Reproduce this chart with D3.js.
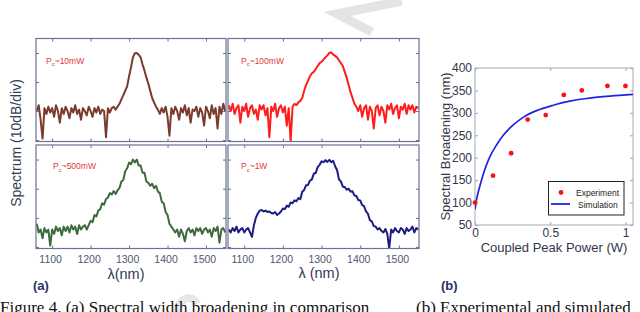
<!DOCTYPE html>
<html>
<head>
  <meta charset="utf-8">
  <style>
    body { margin: 0; background: white; }
    svg { display: block; font-family: "Liberation Sans", Arial, sans-serif; }
  </style>
</head>
<body>
  <svg id="fig" width="640" height="312"></svg>
  <script src="https://cdn.jsdelivr.net/npm/d3@7"></script>
  <script>
    // spectra, dB values every 5 nm from 1060 to 1550 nm
    var wavelengths = d3.range(1060, 1551, 5);
    var spec10mW = [
      -20, -18, -23, -29.5, -19, -21, -18.5, -20.5, -19, -22,
      -18, -20, -24, -19, -21, -18.5, -20, -22.5, -19, -20.5,
      -18, -21, -19.5, -23, -19, -20, -21.5, -18.5, -20, -22,
      -19, -20.5, -18.5, -21, -19.5, -20, -29, -19, -20.5, -19,
      -18.5, -19.5, -18.5, -17.5, -16, -14.5, -13, -11.5, -8, -5,
      -1.5, -0.1, 0, -0.6, -1.5, -4, -6, -8.5, -10.5, -13,
      -15.5, -17, -18.5, -19.5, -21, -19, -20.5, -18.5, -22, -28.5,
      -19, -21, -18.5, -20, -23, -19, -20.5, -18, -21.5, -19,
      -24, -19.5, -20, -18.5, -22, -19, -20.5, -25, -18.5, -20,
      -22.5, -18, -21, -19, -26, -18.5, -21, -17.5, -20
    ];
    var spec100mW = [
      -18, -20, -17.5, -21, -19, -18, -24, -18.5, -20, -17.5,
      -22, -19, -18, -21, -19.5, -23, -18, -19.5, -18, -21.5,
      -19, -29, -18.5, -20, -17.5, -22, -19, -18, -20.5, -18.5,
      -25, -19, -30.5, -18.5, -17.5, -18, -17, -16.5, -15.5, -13,
      -11, -9.5, -8, -7, -6.5, -5.5, -4.5, -3.5, -3, -2.3,
      -1.5, -0.8, 0, 0.2, -0.5, -1, -1.5, -2.5, -3.5, -4.5,
      -6.5, -8.5, -11, -13.5, -15.5, -17.5, -18.5, -20, -18, -22,
      -19, -18, -23, -18.5, -20, -26, -19, -18, -21.5, -18.5,
      -20, -24, -18, -19.5, -17.5, -21, -19, -18, -22.5, -18.5,
      -19.5, -17.5, -21, -18, -19.5, -18, -20.5, -18.5, -19
    ];
    var spec500mW = [
      -22, -25, -24, -27, -23.5, -25, -24, -29.5, -24, -25.5,
      -23, -24.5, -23.5, -26, -23, -24.5, -23, -25, -22.5, -24,
      -23, -25.5, -22.5, -24, -23, -22.5, -24, -22.5, -21, -21.5,
      -19, -19.5, -17.5, -17, -15, -15.5, -13.5, -13, -11.5, -12,
      -10.8, -11.8, -10.5, -9.8, -7.5, -7, -4, -3, -1, -1.6,
      0, -1, 0, -2, -2, -4.5, -4.5, -7.5, -8, -9,
      -8.3, -9.8, -9, -11, -11.5, -14.5, -15, -18, -19, -22,
      -23, -24, -25, -24, -26.5, -24, -25.5, -28, -24.5, -23.5,
      -25, -24, -26, -23.5, -24.5, -23.5, -25.5, -24, -23.5, -25,
      -24, -26.5, -23.5, -24.5, -23, -28.5, -24, -23.5, -25
    ];
    var spec1W = [
      -24, -25, -23.5, -24.5, -23, -25, -24, -23.5, -25, -24,
      -23.5, -25, -26.5, -22.5, -20, -18.5, -17.5, -17.3, -17.8, -17.5,
      -18, -17.8, -18.3, -18.5, -18, -19, -18.5, -17.8, -16.8, -17,
      -15.8, -16.2, -14.7, -15, -14, -14.3, -13.2, -13.6, -11, -10.4,
      -8.8, -8.7, -7.2, -6.8, -4.8, -4.6, -2.5, -1.8, -0.6, -0.9,
      -0.2, -0.8, -0.1, -0.9, -0.4, -2.3, -3.6, -6.8, -7.5, -9.3,
      -9.4, -10.3, -10, -11, -10.9, -12.3, -12.5, -13.9, -14, -15.6,
      -16, -17.8, -18.6, -20.8, -21.2, -22.8, -23, -24, -23.5, -24.5,
      -25, -23.8, -25.5, -30.5, -24, -25, -23.5, -24.5, -25, -23.5,
      -24, -25.5, -23.5, -24.5, -24, -23, -25, -23.5, -24
    ];
    var panelPowers = ["~10mW", "~100mW", "~500mW", "~1W"];
    var traceColors = ["#7a3a2c", "#ff1c1c", "#3e6a3e", "#1c1c84"];
    var nmTicks = [1100, 1200, 1300, 1400, 1500];
    var dbTicks = [-30, -20, -10, 0];

    // broadening vs power
    var expPower = [0, 0.12, 0.24, 0.35, 0.47, 0.59, 0.71, 0.88, 1.0];
    var expBroadening = [100, 160, 210, 285, 295, 340, 350, 360, 360];
    var simPower = [0, 0.011, 0.022, 0.04, 0.055, 0.075, 0.1, 0.144, 0.188, 0.254,
      0.32, 0.41, 0.52, 0.63, 0.74, 0.85, 0.96, 1.05];
    var simBroadening = [85, 108, 124, 146, 163, 183, 203, 229, 250, 273,
      290, 305, 317, 326, 332, 336, 339, 341];
    var broadTicks = [50, 100, 150, 200, 250, 300, 350, 400];
    var powerTicks = [0, 0.5, 1];

    var svg = d3.select("#fig");

    // faint watermark strokes
    svg.append("path")
      .attr("d", "M402,1 L337,14 L372,32")
      .attr("fill", "none").attr("stroke", "#e4e4e4").attr("stroke-width", 9);
    svg.append("path")
      .attr("d", "M177,313 C178,300 190,292 197,304")
      .attr("fill", "none").attr("stroke", "#e6e6e6").attr("stroke-width", 8);

    var panels = [
      { x0: 36, y0: 38.5, w: 190, h: 103, data: spec10mW },
      { x0: 228, y0: 38.5, w: 191, h: 103, data: spec100mW },
      { x0: 36, y0: 145, w: 190, h: 103.5, data: spec500mW },
      { x0: 228, y0: 145, w: 191, h: 103.5, data: spec1W }
    ];

    panels.forEach(function (p, i) {
      var x = d3.scaleLinear().domain([1058, 1552]).range([p.x0, p.x0 + p.w]);
      var y = d3.scaleLinear().domain([-30.5, 5]).range([p.y0 + p.h, p.y0]);
      var g = svg.append("g");

      g.append("clipPath").attr("id", "clip" + i)
        .append("rect")
        .attr("x", p.x0).attr("y", p.y0).attr("width", p.w).attr("height", p.h);

      var line = d3.line()
        .x(function (d, k) { return x(wavelengths[k]); })
        .y(function (d) { return y(d); });
      g.append("path")
        .datum(p.data)
        .attr("clip-path", "url(#clip" + i + ")")
        .attr("fill", "none")
        .attr("stroke", traceColors[i])
        .attr("stroke-width", 2)
        .attr("stroke-linejoin", "round")
        .attr("d", line);

      // inner ticks on all four sides
      var bottom = i >= 2;
      var xb = g.append("g").attr("transform", "translate(0," + (p.y0 + p.h) + ")")
        .call(d3.axisBottom(x).tickValues(nmTicks).tickSizeInner(-3).tickSizeOuter(0)
          .tickPadding(7).tickFormat(bottom ? d3.format("d") : ""));
      g.append("g").attr("transform", "translate(0," + p.y0 + ")")
        .call(d3.axisTop(x).tickValues(nmTicks).tickSizeInner(-3).tickSizeOuter(0).tickFormat(""));
      g.append("g").attr("transform", "translate(" + p.x0 + ",0)")
        .call(d3.axisLeft(y).tickValues(dbTicks).tickSizeInner(-3).tickSizeOuter(0).tickFormat(""));
      g.append("g").attr("transform", "translate(" + (p.x0 + p.w) + ",0)")
        .call(d3.axisRight(y).tickValues(dbTicks).tickSizeInner(-3).tickSizeOuter(0).tickFormat(""));
      g.selectAll(".domain").remove();
      g.selectAll(".tick line").attr("stroke", "#6c7292");
      xb.selectAll("text")
        .attr("font-size", 10.5)
        .attr("font-family", "Liberation Sans, Arial, sans-serif")
        .attr("fill", "#505670")
        .attr("dx", -2);

      g.append("rect")
        .attr("x", p.x0).attr("y", p.y0).attr("width", p.w).attr("height", p.h)
        .attr("fill", "none").attr("stroke", "#6c7292").attr("stroke-width", 1.2);

      // P label
      var lab = g.append("text")
        .attr("x", p.x0 + (i == 0 ? 10 : (i == 2 ? 17 : 13)))
        .attr("y", p.y0 + (i < 2 ? 25 : 24))
        .attr("font-size", 8.5)
        .attr("fill", "#e03a3a");
      lab.append("tspan").text("P");
      lab.append("tspan").attr("font-size", 6).attr("dy", 2.5).text("c");
      lab.append("tspan").attr("dy", -2.5).text(panelPowers[i]);
    });

    // left figure labels
    svg.append("text")
      .attr("transform", "translate(21,143) rotate(-90)")
      .attr("text-anchor", "middle")
      .attr("font-size", 14)
      .attr("fill", "#353a58")
      .text("Spectrum (10dB/div)");
    svg.append("text")
      .attr("x", 126).attr("y", 279)
      .attr("text-anchor", "middle").attr("font-size", 14.5).attr("fill", "#353a58")
      .text("λ(nm)");
    svg.append("text")
      .attr("x", 319).attr("y", 278)
      .attr("text-anchor", "middle").attr("font-size", 14.5).attr("fill", "#353a58")
      .text("λ (nm)");
    svg.append("text")
      .attr("x", 33).attr("y", 290)
      .attr("font-size", 13).attr("font-weight", "bold").attr("fill", "#26306a")
      .text("(a)");

    // right figure: broadening vs power
    var bx = d3.scaleLinear().domain([0, 1.05]).range([475, 633]);
    var by = d3.scaleLinear().domain([50, 400]).range([225, 68]);
    var rg = svg.append("g");

    rg.append("clipPath").attr("id", "clipB")
      .append("rect").attr("x", 475).attr("y", 68).attr("width", 158).attr("height", 157);

    rg.append("g").attr("transform", "translate(475,0)")
      .call(d3.axisLeft(by).tickValues(broadTicks).tickSizeInner(-3).tickSizeOuter(0).tickPadding(3));
    rg.append("g").attr("transform", "translate(633,0)")
      .call(d3.axisRight(by).tickValues(broadTicks).tickSizeInner(-3).tickSizeOuter(0).tickFormat(""));
    rg.append("g").attr("transform", "translate(0,225)")
      .call(d3.axisBottom(bx).tickValues(powerTicks).tickSizeInner(-3).tickSizeOuter(0).tickPadding(3)
        .tickFormat(function (d) { return d == 0.5 ? "0.5" : d3.format("d")(d); }));
    rg.append("g").attr("transform", "translate(0,68)")
      .call(d3.axisTop(bx).tickValues(powerTicks).tickSizeInner(-3).tickSizeOuter(0).tickFormat(""));
    rg.selectAll(".domain").remove();
    rg.selectAll(".tick line").attr("stroke", "#9ea2b8");
    rg.selectAll(".tick text")
      .attr("font-size", 12)
      .attr("font-family", "Liberation Sans, Arial, sans-serif")
      .attr("fill", "#33364a");
    rg.append("rect")
      .attr("x", 475).attr("y", 68).attr("width", 158).attr("height", 157)
      .attr("fill", "none").attr("stroke", "#a4a8bc").attr("stroke-width", 1);

    rg.append("path")
      .datum(simPower.map(function (d, k) { return [d, simBroadening[k]]; }))
      .attr("clip-path", "url(#clipB)")
      .attr("fill", "none")
      .attr("stroke", "#2222e6")
      .attr("stroke-width", 1.7)
      .attr("d", d3.line()
        .x(function (d) { return bx(d[0]); })
        .y(function (d) { return by(d[1]); })
        .curve(d3.curveMonotoneX));

    rg.selectAll("circle.exp")
      .data(expPower)
      .join("circle")
      .attr("class", "exp")
      .attr("cx", function (d) { return bx(d); })
      .attr("cy", function (d, k) { return by(expBroadening[k]); })
      .attr("r", 2.4)
      .attr("fill", "#ff1010");

    // legend
    var lg = rg.append("g");
    lg.append("rect")
      .attr("x", 548.5).attr("y", 181.5).attr("width", 75.5).attr("height", 33.5)
      .attr("fill", "white").attr("stroke", "#222").attr("stroke-width", 1);
    lg.append("circle").attr("cx", 561).attr("cy", 192.5).attr("r", 2.4).attr("fill", "#ff1010");
    lg.append("text").attr("x", 576).attr("y", 195.5)
      .attr("font-size", 8.5).attr("fill", "#222").text("Experiment");
    lg.append("line").attr("x1", 551).attr("x2", 570).attr("y1", 204).attr("y2", 204)
      .attr("stroke", "#2222e6").attr("stroke-width", 1.8);
    lg.append("text").attr("x", 578).attr("y", 207.5)
      .attr("font-size", 8.5).attr("fill", "#222").text("Simulation");

    svg.append("text")
      .attr("transform", "translate(450,146.5) rotate(-90)")
      .attr("text-anchor", "middle").attr("font-size", 13).attr("fill", "#33364a")
      .text("Spectral Broadening (nm)");
    svg.append("text")
      .attr("x", 554).attr("y", 251.5)
      .attr("text-anchor", "middle").attr("font-size", 13).attr("fill", "#33364a")
      .text("Coupled Peak Power (W)");
    svg.append("text")
      .attr("x", 441).attr("y", 290)
      .attr("font-size", 13).attr("font-weight", "bold").attr("fill", "#26306a")
      .text("(b)");

    // caption, cut off at the bottom edge as in the source
    svg.append("text")
      .attr("x", 0).attr("y", 313)
      .attr("font-family", "Liberation Serif, Times New Roman, serif")
      .attr("font-size", 17).attr("fill", "#111")
      .text("Figure 4. (a) Spectral width broadening in comparison");
    svg.append("text")
      .attr("x", 416).attr("y", 313)
      .attr("font-family", "Liberation Serif, Times New Roman, serif")
      .attr("font-size", 17).attr("fill", "#111")
      .text("(b) Experimental and simulated");
  </script>
</body>
</html>
